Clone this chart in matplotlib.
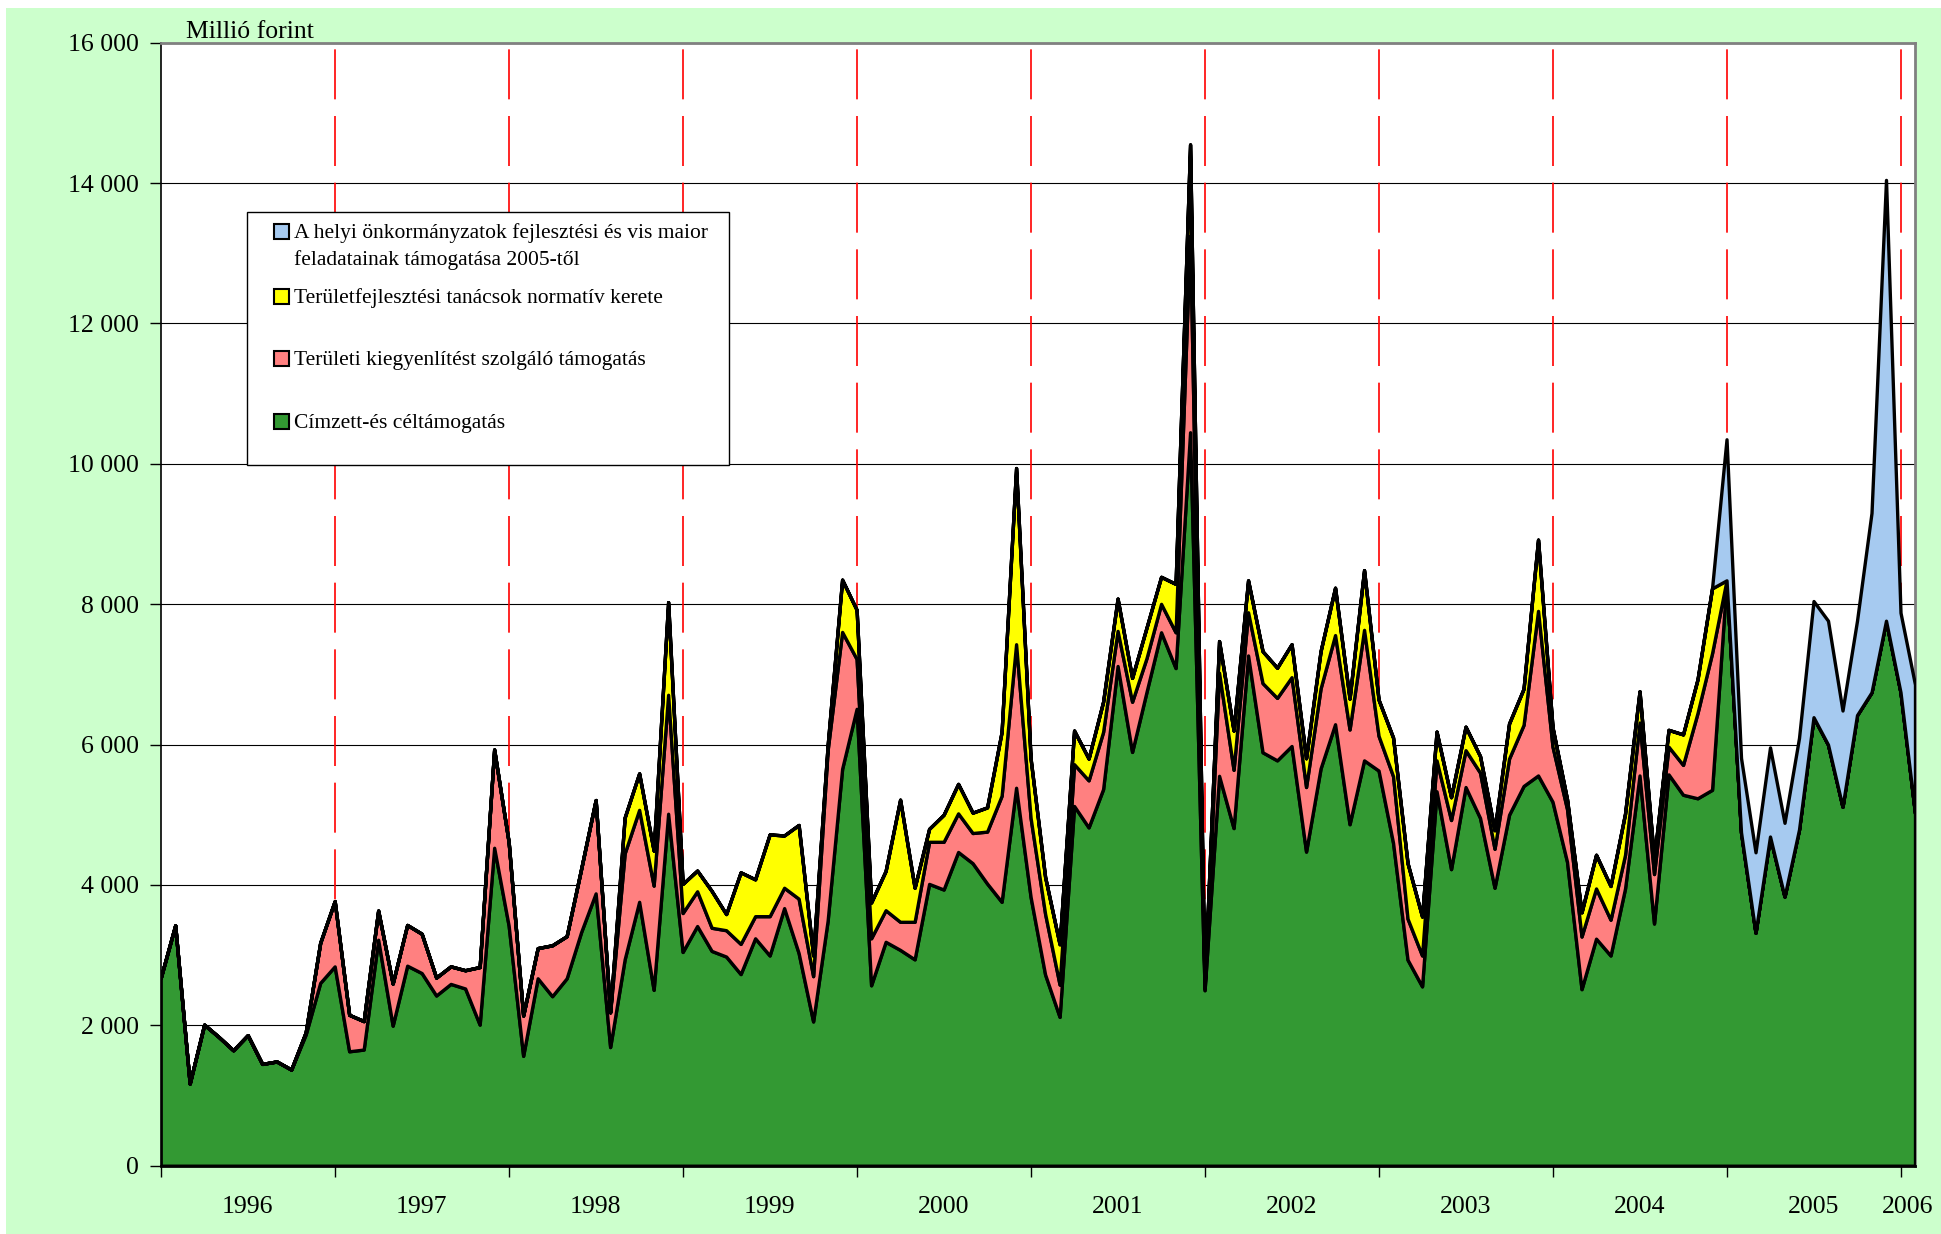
import numpy as np
import matplotlib
matplotlib.use("Agg")
import matplotlib.pyplot as plt
from matplotlib.patches import Rectangle

plt.rcParams['font.family'] = ['Liberation Serif', 'DejaVu Serif']

# ---------------- data (million HUF, monthly, Jan 1996 - Feb 2006) ----------------
years = ['1996', '1997', '1998', '1999', '2000', '2001', '2002', '2003', '2004', '2005', '2006']

green = [2675, 3425, 1170, 2010, 1835, 1645, 1860, 1450, 1485, 1370, 1870, 2605,
         2840, 1630, 1655, 3220, 1995, 2850, 2745, 2425, 2590, 2525, 2010, 4530,
         3420, 1565, 2670, 2415, 2670, 3330, 3880, 1690, 2940, 3760, 2505, 5015,
         3045, 3415, 3060, 2980, 2730, 3240, 2995, 3670, 3030, 2055, 3490, 5655,
         6510, 2570, 3190, 3075, 2940, 4015, 3935, 4470, 4310, 4020, 3760, 5385,
         3830, 2725, 2120, 5125, 4820, 5365, 7120, 5895, 6755, 7600, 7090, 10450,
         2500, 5555, 4810, 7270, 5890, 5775, 5980, 4475, 5660, 6290, 4865, 5775,
         5630, 4600, 2935, 2555, 5335, 4225, 5395, 4955, 3960, 5000, 5410, 5560,
         5185, 4330, 2515, 3235, 2995, 3950, 5560, 3450, 5575, 5285, 5235, 5355,
         8340, 4750, 3320, 4690, 3835, 4790, 6390, 6000, 5115, 6420, 6745, 7765,
         6745, 5025]

pink = [0, 0, 0, 0, 0, 0, 0, 0, 0, 0, 30, 570,
        930, 520, 405, 415, 600, 580, 560, 255, 250, 260, 820, 1400,
        1190, 575, 430, 725, 600, 900, 1330, 495, 1510, 1310, 1485, 1695,
        555, 495, 330, 375, 430, 315, 560, 290, 775, 645, 2430, 1950,
        710, 670, 450, 400, 535, 600, 680, 550, 430, 740, 1510, 2045,
        1125, 865, 460, 595, 670, 815, 500, 715, 480, 405, 510, 2800,
        30, 1470, 830, 615, 985, 890, 980, 920, 1140, 1270, 1350, 1860,
        495, 950, 585, 440, 440, 700, 525, 645, 555, 800, 870, 2345,
        785, 750, 750, 715, 510, 480, 755, 705, 395, 425, 1215, 1945,
        0, 0, 0, 0, 0, 0, 0, 0, 0, 0, 0, 0,
        0, 0]

yellow = [0, 0, 0, 0, 0, 0, 0, 0, 0, 0, 0, 0,
          0, 0, 0, 0, 0, 0, 0, 0, 0, 0, 0, 0,
          0, 0, 0, 0, 0, 0, 0, 0, 510, 520, 500, 1320,
          415, 295, 525, 230, 1020, 525, 1165, 745, 1050, 295, 65, 745,
          700, 510, 560, 1740, 485, 185, 385, 420, 290, 345, 910, 2510,
          845, 525, 575, 480, 310, 430, 460, 340, 435, 385, 690, 1300,
          20, 450, 560, 455, 455, 430, 470, 410, 530, 675, 440, 850,
          515, 550, 790, 555, 410, 325, 335, 235, 265, 500, 515, 1015,
          275, 140, 345, 480, 480, 585, 445, 210, 240, 435, 480, 925,
          0, 0, 0, 0, 0, 0, 0, 0, 0, 0, 0, 0,
          0, 0]

blue = [0, 0, 0, 0, 0, 0, 0, 0, 0, 0, 0, 0,
        0, 0, 0, 0, 0, 0, 0, 0, 0, 0, 0, 0,
        0, 0, 0, 0, 0, 0, 0, 0, 0, 0, 0, 0,
        0, 0, 0, 0, 0, 0, 0, 0, 0, 0, 0, 0,
        0, 0, 0, 0, 0, 0, 0, 0, 0, 0, 0, 0,
        0, 0, 0, 0, 0, 0, 0, 0, 0, 0, 0, 0,
        0, 0, 0, 0, 0, 0, 0, 0, 0, 0, 0, 0,
        0, 0, 0, 0, 0, 0, 0, 0, 0, 0, 0, 0,
        0, 0, 0, 0, 0, 0, 0, 0, 0, 0, 0, 0,
        2010, 1060, 1145, 1270, 1050, 1305, 1655, 1765, 1370, 1345, 2555, 6280,
        1135, 1830]

labels = ['A helyi önkormányzatok fejlesztési és vis maior\nfeladatainak támogatása 2005-től',
          'Területfejlesztési tanácsok normatív kerete',
          'Területi kiegyenlítést szolgáló támogatás',
          'Címzett-és céltámogatás']
colors = ['#339933', '#FF8080', '#FFFF00', '#A6CAF0']   # green, pink, yellow, blue

# ---------------- figure ----------------
W, H = 1941, 1234
fig = plt.figure(figsize=(W / 100, H / 100), dpi=100)
fig.patch.set_facecolor('white')

bg = fig.add_axes([0, 0, 1, 1], zorder=0)
bg.set_xlim(0, W)
bg.set_ylim(H, 0)
bg.axis('off')
bg.add_patch(Rectangle((6, 8), W - 6, H - 8, facecolor='#CCFFCC', edgecolor='none'))

L, R, T, B = 160.7, 1915.0, 42.7, 1165.7
ax = fig.add_axes([L / W, (H - B) / H, (R - L) / W, (B - T) / H], zorder=1)
ax.set_facecolor('white')

n = len(green)
x = np.arange(n)
ax.stackplot(x, green, pink, yellow, blue, colors=colors,
             edgecolor='black', linewidth=2.4, zorder=3)

ax.set_xlim(0, n - 1)
ax.set_ylim(0, 16000)
yt = list(range(0, 16001, 2000))
ax.set_yticks(yt)
ax.set_yticklabels([f"{v:,}".replace(",", " ") for v in yt], fontsize=18.5)
ax.yaxis.grid(True, color='black', linewidth=0.8, zorder=0)
ax.set_axisbelow(True)

# year boundaries
bounds = list(range(0, n, 12))
for b in bounds[1:]:
    ax.axvline(b, color='red', linewidth=1.2, dashes=(30, 10), zorder=1)

ax.set_xticks(bounds)
ax.set_xticklabels([])
pos = [min(12 * k + 6, (12 * k + n - 1) / 2) for k in range(len(years))]
ax.set_xticks(pos, minor=True)
ax.set_xticklabels(years, minor=True, fontsize=18.5)
ax.tick_params(axis='x', which='major', length=8, width=1, direction='out')
ax.tick_params(axis='x', which='minor', length=0, pad=22)
ax.tick_params(axis='y', length=8, width=1, pad=7.5)

for s in ['top', 'right']:
    ax.spines[s].set_color('#808080')
    ax.spines[s].set_linewidth(2)
ax.spines['left'].set_linewidth(1.2)
ax.spines['bottom'].set_linewidth(2)

# ---------------- overlay: unit label + legend ----------------
ov = fig.add_axes([0, 0, 1, 1], zorder=10)
ov.set_xlim(0, W)
ov.set_ylim(H, 0)
ov.axis('off')
ov.patch.set_alpha(0)

ov.text(186, 38, 'Millió forint', fontsize=18.5, ha='left', va='baseline')

ov.add_patch(Rectangle((247, 212), 482, 253, facecolor='white', edgecolor='black', linewidth=1.0))
leg_colors = [colors[3], colors[2], colors[1], colors[0]]
marker_y = [231, 296, 358, 421]
for lab, c, my in zip(labels, leg_colors, marker_y):
    ov.add_patch(Rectangle((274, my - 7.5), 15, 15, facecolor=c, edgecolor='black', linewidth=1.5))
    lines = lab.split('\n')
    for k, line in enumerate(lines):
        ov.text(294, my + 7 + 27 * k, line, fontsize=15.5, ha='left', va='baseline')

fig.savefig('out.png', dpi=100, facecolor=fig.get_facecolor())
